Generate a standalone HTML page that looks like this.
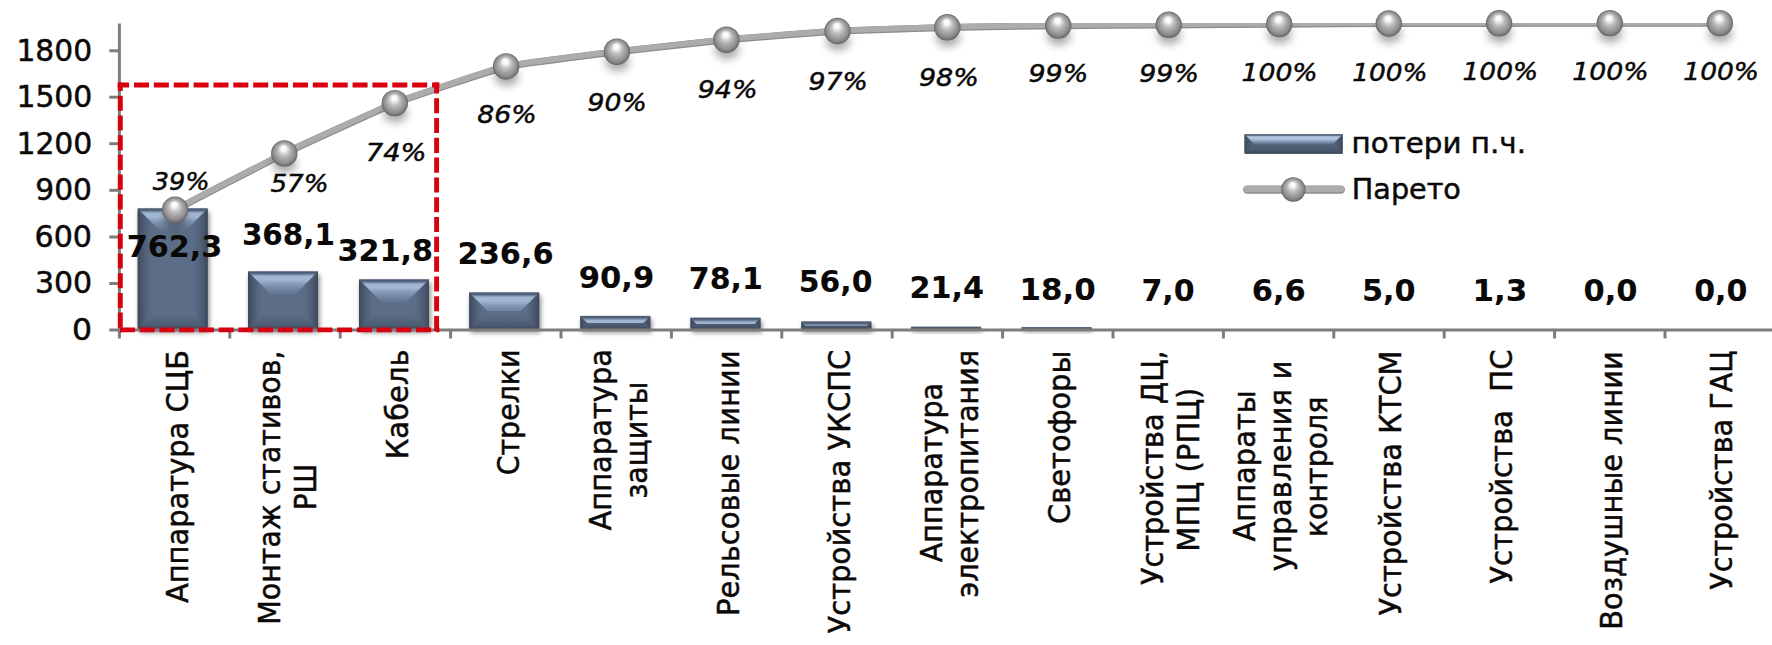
<!DOCTYPE html>
<html lang="ru"><head><meta charset="utf-8"><title>Парето</title>
<style>html,body{margin:0;padding:0;background:#fff;}body{width:1772px;height:645px;overflow:hidden;}svg{display:block;}text{font-family:'DejaVu Sans','Liberation Sans',sans-serif;fill:#0b0908;stroke:#0b0908;stroke-width:0.5px;}.yl{font-size:30.8px;text-anchor:end;}.pc{font-size:25.0px;font-style:italic;text-anchor:middle;}.vl{font-size:29.6px;font-weight:bold;text-anchor:middle;stroke-width:0.1px;}.ct{font-size:30.7px;white-space:pre;}.lg{font-size:28.3px;}</style></head><body>
<svg width="1772" height="645" viewBox="0 0 1772 645">
<defs>
<linearGradient id="gTop" x1="0" y1="0" x2="0" y2="1"><stop offset="0" stop-color="#4f5e75"/><stop offset="0.09" stop-color="#90a6c3"/><stop offset="0.5" stop-color="#7f94b1"/><stop offset="1" stop-color="#687b96"/></linearGradient>
<linearGradient id="gBot" x1="0" y1="0" x2="0" y2="1"><stop offset="0" stop-color="#5b6c85"/><stop offset="1" stop-color="#4b5a70"/></linearGradient>
<linearGradient id="gL" x1="0" y1="0" x2="1" y2="0"><stop offset="0" stop-color="#414e61"/><stop offset="0.22" stop-color="#55667d"/><stop offset="1" stop-color="#5f718a"/></linearGradient>
<linearGradient id="gR" x1="0" y1="0" x2="1" y2="0"><stop offset="0" stop-color="#5f718a"/><stop offset="0.78" stop-color="#55667d"/><stop offset="1" stop-color="#414e61"/></linearGradient>
<radialGradient id="ball" cx="0.5" cy="0.5" r="0.5" fx="0.47" fy="0.27"><stop offset="0" stop-color="#ffffff"/><stop offset="0.19" stop-color="#f8f8f8"/><stop offset="0.42" stop-color="#c4c3c3"/><stop offset="0.62" stop-color="#a6a4a4"/><stop offset="0.82" stop-color="#8f8d8d"/><stop offset="0.94" stop-color="#757373"/><stop offset="1" stop-color="#605e5e"/></radialGradient>
<filter id="blur2" x="-30%" y="-30%" width="160%" height="160%"><feGaussianBlur stdDeviation="2.4"/></filter>
<filter id="blur3" x="-50%" y="-50%" width="200%" height="200%"><feGaussianBlur stdDeviation="4.3"/></filter>
<clipPath id="plot"><rect x="0" y="23" width="1772" height="645"/></clipPath>
<linearGradient id="gLegTop" x1="0" y1="0" x2="0" y2="1"><stop offset="0" stop-color="#5a6a81"/><stop offset="0.22" stop-color="#b4c7df"/><stop offset="0.5" stop-color="#8ea2be"/><stop offset="1" stop-color="#62748d"/></linearGradient>
</defs>
<rect x="0" y="0" width="1772" height="645" fill="#ffffff"/>
<g id="bars">
<linearGradient id="bt1" gradientUnits="userSpaceOnUse" x1="0.00" y1="208.50" x2="0.00" y2="232.50"><stop offset="0.000" stop-color="#45536a"/><stop offset="0.083" stop-color="#566780"/><stop offset="0.188" stop-color="#9fb4d1"/><stop offset="0.333" stop-color="#a3b8d4"/><stop offset="0.542" stop-color="#8499b6"/><stop offset="0.750" stop-color="#7084a0"/><stop offset="1.000" stop-color="#5c6e87"/></linearGradient><linearGradient id="bb1" gradientUnits="userSpaceOnUse" x1="0.00" y1="330.00" x2="0.00" y2="314.00"><stop offset="0.000" stop-color="#3b4759"/><stop offset="0.250" stop-color="#4a596f"/><stop offset="0.625" stop-color="#54657c"/><stop offset="1.000" stop-color="#5c6e87"/></linearGradient><linearGradient id="bl1" gradientUnits="userSpaceOnUse" x1="137.70" y1="0.00" x2="151.70" y2="0.00"><stop offset="0.000" stop-color="#3c4859"/><stop offset="0.214" stop-color="#465368"/><stop offset="0.571" stop-color="#526279"/><stop offset="1.000" stop-color="#5c6e87"/></linearGradient><linearGradient id="br1" gradientUnits="userSpaceOnUse" x1="207.70" y1="0.00" x2="193.70" y2="0.00"><stop offset="0.000" stop-color="#3c4859"/><stop offset="0.214" stop-color="#465368"/><stop offset="0.571" stop-color="#526279"/><stop offset="1.000" stop-color="#5c6e87"/></linearGradient><rect x="139.2" y="211.5" width="70.0" height="121.0" fill="#000" opacity="0.48" filter="url(#blur2)"/><rect x="137.7" y="208.5" width="70.0" height="121.5" fill="#5c6e87"/><polygon points="137.7,208.5 161.7,232.5 161.7,306.0 137.7,330.0" fill="url(#bl1)"/><polygon points="207.7,208.5 183.7,232.5 183.7,306.0 207.7,330.0" fill="url(#br1)"/><polygon points="137.7,330.0 207.7,330.0 183.7,306.0 161.7,306.0" fill="url(#bb1)"/><polygon points="137.7,208.5 207.7,208.5 183.7,232.5 161.7,232.5" fill="url(#bt1)"/>
<linearGradient id="bt2" gradientUnits="userSpaceOnUse" x1="0.00" y1="271.50" x2="0.00" y2="295.50"><stop offset="0.000" stop-color="#45536a"/><stop offset="0.083" stop-color="#566780"/><stop offset="0.188" stop-color="#9fb4d1"/><stop offset="0.333" stop-color="#a3b8d4"/><stop offset="0.542" stop-color="#8499b6"/><stop offset="0.750" stop-color="#7084a0"/><stop offset="1.000" stop-color="#5c6e87"/></linearGradient><linearGradient id="bb2" gradientUnits="userSpaceOnUse" x1="0.00" y1="330.00" x2="0.00" y2="314.00"><stop offset="0.000" stop-color="#3b4759"/><stop offset="0.250" stop-color="#4a596f"/><stop offset="0.625" stop-color="#54657c"/><stop offset="1.000" stop-color="#5c6e87"/></linearGradient><linearGradient id="bl2" gradientUnits="userSpaceOnUse" x1="248.00" y1="0.00" x2="262.00" y2="0.00"><stop offset="0.000" stop-color="#3c4859"/><stop offset="0.214" stop-color="#465368"/><stop offset="0.571" stop-color="#526279"/><stop offset="1.000" stop-color="#5c6e87"/></linearGradient><linearGradient id="br2" gradientUnits="userSpaceOnUse" x1="318.00" y1="0.00" x2="304.00" y2="0.00"><stop offset="0.000" stop-color="#3c4859"/><stop offset="0.214" stop-color="#465368"/><stop offset="0.571" stop-color="#526279"/><stop offset="1.000" stop-color="#5c6e87"/></linearGradient><rect x="249.5" y="274.5" width="70.0" height="58.0" fill="#000" opacity="0.48" filter="url(#blur2)"/><rect x="248.0" y="271.5" width="70.0" height="58.5" fill="#5c6e87"/><polygon points="248.0,271.5 272.0,295.5 272.0,306.0 248.0,330.0" fill="url(#bl2)"/><polygon points="318.0,271.5 294.0,295.5 294.0,306.0 318.0,330.0" fill="url(#br2)"/><polygon points="248.0,330.0 318.0,330.0 294.0,306.0 272.0,306.0" fill="url(#bb2)"/><polygon points="248.0,271.5 318.0,271.5 294.0,295.5 272.0,295.5" fill="url(#bt2)"/>
<linearGradient id="bt3" gradientUnits="userSpaceOnUse" x1="0.00" y1="279.50" x2="0.00" y2="303.50"><stop offset="0.000" stop-color="#45536a"/><stop offset="0.083" stop-color="#566780"/><stop offset="0.188" stop-color="#9fb4d1"/><stop offset="0.333" stop-color="#a3b8d4"/><stop offset="0.542" stop-color="#8499b6"/><stop offset="0.750" stop-color="#7084a0"/><stop offset="1.000" stop-color="#5c6e87"/></linearGradient><linearGradient id="bb3" gradientUnits="userSpaceOnUse" x1="0.00" y1="330.00" x2="0.00" y2="314.00"><stop offset="0.000" stop-color="#3b4759"/><stop offset="0.250" stop-color="#4a596f"/><stop offset="0.625" stop-color="#54657c"/><stop offset="1.000" stop-color="#5c6e87"/></linearGradient><linearGradient id="bl3" gradientUnits="userSpaceOnUse" x1="359.00" y1="0.00" x2="373.00" y2="0.00"><stop offset="0.000" stop-color="#3c4859"/><stop offset="0.214" stop-color="#465368"/><stop offset="0.571" stop-color="#526279"/><stop offset="1.000" stop-color="#5c6e87"/></linearGradient><linearGradient id="br3" gradientUnits="userSpaceOnUse" x1="429.00" y1="0.00" x2="415.00" y2="0.00"><stop offset="0.000" stop-color="#3c4859"/><stop offset="0.214" stop-color="#465368"/><stop offset="0.571" stop-color="#526279"/><stop offset="1.000" stop-color="#5c6e87"/></linearGradient><rect x="360.5" y="282.5" width="70.0" height="50.0" fill="#000" opacity="0.48" filter="url(#blur2)"/><rect x="359.0" y="279.5" width="70.0" height="50.5" fill="#5c6e87"/><polygon points="359.0,279.5 383.0,303.5 383.0,306.0 359.0,330.0" fill="url(#bl3)"/><polygon points="429.0,279.5 405.0,303.5 405.0,306.0 429.0,330.0" fill="url(#br3)"/><polygon points="359.0,330.0 429.0,330.0 405.0,306.0 383.0,306.0" fill="url(#bb3)"/><polygon points="359.0,279.5 429.0,279.5 405.0,303.5 383.0,303.5" fill="url(#bt3)"/>
<linearGradient id="bt4" gradientUnits="userSpaceOnUse" x1="0.00" y1="292.60" x2="0.00" y2="316.60"><stop offset="0.000" stop-color="#45536a"/><stop offset="0.083" stop-color="#566780"/><stop offset="0.188" stop-color="#9fb4d1"/><stop offset="0.333" stop-color="#a3b8d4"/><stop offset="0.542" stop-color="#8499b6"/><stop offset="0.750" stop-color="#7084a0"/><stop offset="1.000" stop-color="#5c6e87"/></linearGradient><linearGradient id="bb4" gradientUnits="userSpaceOnUse" x1="0.00" y1="330.00" x2="0.00" y2="314.00"><stop offset="0.000" stop-color="#3b4759"/><stop offset="0.250" stop-color="#4a596f"/><stop offset="0.625" stop-color="#54657c"/><stop offset="1.000" stop-color="#5c6e87"/></linearGradient><linearGradient id="bl4" gradientUnits="userSpaceOnUse" x1="469.20" y1="0.00" x2="483.20" y2="0.00"><stop offset="0.000" stop-color="#3c4859"/><stop offset="0.214" stop-color="#465368"/><stop offset="0.571" stop-color="#526279"/><stop offset="1.000" stop-color="#5c6e87"/></linearGradient><linearGradient id="br4" gradientUnits="userSpaceOnUse" x1="539.20" y1="0.00" x2="525.20" y2="0.00"><stop offset="0.000" stop-color="#3c4859"/><stop offset="0.214" stop-color="#465368"/><stop offset="0.571" stop-color="#526279"/><stop offset="1.000" stop-color="#5c6e87"/></linearGradient><rect x="470.7" y="295.6" width="70.0" height="36.9" fill="#000" opacity="0.48" filter="url(#blur2)"/><rect x="469.2" y="292.6" width="70.0" height="37.4" fill="#5c6e87"/><polygon points="469.2,292.6 487.9,311.3 487.9,311.3 469.2,330.0" fill="url(#bl4)"/><polygon points="539.2,292.6 520.5,311.3 520.5,311.3 539.2,330.0" fill="url(#br4)"/><polygon points="469.2,330.0 539.2,330.0 520.5,311.3 487.9,311.3" fill="url(#bb4)"/><polygon points="469.2,292.6 539.2,292.6 520.5,311.3 487.9,311.3" fill="url(#bt4)"/>
<linearGradient id="bt5" gradientUnits="userSpaceOnUse" x1="0.00" y1="315.90" x2="0.00" y2="339.90"><stop offset="0.000" stop-color="#45536a"/><stop offset="0.083" stop-color="#566780"/><stop offset="0.188" stop-color="#9fb4d1"/><stop offset="0.333" stop-color="#a3b8d4"/><stop offset="0.542" stop-color="#8499b6"/><stop offset="0.750" stop-color="#7084a0"/><stop offset="1.000" stop-color="#5c6e87"/></linearGradient><linearGradient id="bb5" gradientUnits="userSpaceOnUse" x1="0.00" y1="330.00" x2="0.00" y2="314.00"><stop offset="0.000" stop-color="#3b4759"/><stop offset="0.250" stop-color="#4a596f"/><stop offset="0.625" stop-color="#54657c"/><stop offset="1.000" stop-color="#5c6e87"/></linearGradient><linearGradient id="bl5" gradientUnits="userSpaceOnUse" x1="580.30" y1="0.00" x2="594.30" y2="0.00"><stop offset="0.000" stop-color="#3c4859"/><stop offset="0.214" stop-color="#465368"/><stop offset="0.571" stop-color="#526279"/><stop offset="1.000" stop-color="#5c6e87"/></linearGradient><linearGradient id="br5" gradientUnits="userSpaceOnUse" x1="650.30" y1="0.00" x2="636.30" y2="0.00"><stop offset="0.000" stop-color="#3c4859"/><stop offset="0.214" stop-color="#465368"/><stop offset="0.571" stop-color="#526279"/><stop offset="1.000" stop-color="#5c6e87"/></linearGradient><rect x="581.8" y="318.9" width="70.0" height="13.6" fill="#000" opacity="0.48" filter="url(#blur2)"/><rect x="580.3" y="315.9" width="70.0" height="14.1" fill="#5c6e87"/><polygon points="580.3,315.9 587.3,322.9 587.3,322.9 580.3,330.0" fill="url(#bl5)"/><polygon points="650.3,315.9 643.2,322.9 643.2,322.9 650.3,330.0" fill="url(#br5)"/><polygon points="580.3,330.0 650.3,330.0 643.2,322.9 587.3,322.9" fill="url(#bb5)"/><polygon points="580.3,315.9 650.3,315.9 643.2,322.9 587.3,322.9" fill="url(#bt5)"/>
<linearGradient id="bt6" gradientUnits="userSpaceOnUse" x1="0.00" y1="317.80" x2="0.00" y2="341.80"><stop offset="0.000" stop-color="#45536a"/><stop offset="0.083" stop-color="#566780"/><stop offset="0.188" stop-color="#9fb4d1"/><stop offset="0.333" stop-color="#a3b8d4"/><stop offset="0.542" stop-color="#8499b6"/><stop offset="0.750" stop-color="#7084a0"/><stop offset="1.000" stop-color="#5c6e87"/></linearGradient><linearGradient id="bb6" gradientUnits="userSpaceOnUse" x1="0.00" y1="330.00" x2="0.00" y2="314.00"><stop offset="0.000" stop-color="#3b4759"/><stop offset="0.250" stop-color="#4a596f"/><stop offset="0.625" stop-color="#54657c"/><stop offset="1.000" stop-color="#5c6e87"/></linearGradient><linearGradient id="bl6" gradientUnits="userSpaceOnUse" x1="690.50" y1="0.00" x2="704.50" y2="0.00"><stop offset="0.000" stop-color="#3c4859"/><stop offset="0.214" stop-color="#465368"/><stop offset="0.571" stop-color="#526279"/><stop offset="1.000" stop-color="#5c6e87"/></linearGradient><linearGradient id="br6" gradientUnits="userSpaceOnUse" x1="760.50" y1="0.00" x2="746.50" y2="0.00"><stop offset="0.000" stop-color="#3c4859"/><stop offset="0.214" stop-color="#465368"/><stop offset="0.571" stop-color="#526279"/><stop offset="1.000" stop-color="#5c6e87"/></linearGradient><rect x="692.0" y="320.8" width="70.0" height="11.7" fill="#000" opacity="0.48" filter="url(#blur2)"/><rect x="690.5" y="317.8" width="70.0" height="12.2" fill="#5c6e87"/><polygon points="690.5,317.8 696.6,323.9 696.6,323.9 690.5,330.0" fill="url(#bl6)"/><polygon points="760.5,317.8 754.4,323.9 754.4,323.9 760.5,330.0" fill="url(#br6)"/><polygon points="690.5,330.0 760.5,330.0 754.4,323.9 696.6,323.9" fill="url(#bb6)"/><polygon points="690.5,317.8 760.5,317.8 754.4,323.9 696.6,323.9" fill="url(#bt6)"/>
<linearGradient id="bt7" gradientUnits="userSpaceOnUse" x1="0.00" y1="321.60" x2="0.00" y2="345.60"><stop offset="0.000" stop-color="#45536a"/><stop offset="0.083" stop-color="#566780"/><stop offset="0.188" stop-color="#9fb4d1"/><stop offset="0.333" stop-color="#a3b8d4"/><stop offset="0.542" stop-color="#8499b6"/><stop offset="0.750" stop-color="#7084a0"/><stop offset="1.000" stop-color="#5c6e87"/></linearGradient><linearGradient id="bb7" gradientUnits="userSpaceOnUse" x1="0.00" y1="330.00" x2="0.00" y2="314.00"><stop offset="0.000" stop-color="#3b4759"/><stop offset="0.250" stop-color="#4a596f"/><stop offset="0.625" stop-color="#54657c"/><stop offset="1.000" stop-color="#5c6e87"/></linearGradient><linearGradient id="bl7" gradientUnits="userSpaceOnUse" x1="801.30" y1="0.00" x2="815.30" y2="0.00"><stop offset="0.000" stop-color="#3c4859"/><stop offset="0.214" stop-color="#465368"/><stop offset="0.571" stop-color="#526279"/><stop offset="1.000" stop-color="#5c6e87"/></linearGradient><linearGradient id="br7" gradientUnits="userSpaceOnUse" x1="871.30" y1="0.00" x2="857.30" y2="0.00"><stop offset="0.000" stop-color="#3c4859"/><stop offset="0.214" stop-color="#465368"/><stop offset="0.571" stop-color="#526279"/><stop offset="1.000" stop-color="#5c6e87"/></linearGradient><rect x="802.8" y="324.6" width="70.0" height="7.9" fill="#000" opacity="0.48" filter="url(#blur2)"/><rect x="801.3" y="321.6" width="70.0" height="8.4" fill="#5c6e87"/><polygon points="801.3,321.6 805.5,325.8 805.5,325.8 801.3,330.0" fill="url(#bl7)"/><polygon points="871.3,321.6 867.1,325.8 867.1,325.8 871.3,330.0" fill="url(#br7)"/><polygon points="801.3,330.0 871.3,330.0 867.1,325.8 805.5,325.8" fill="url(#bb7)"/><polygon points="801.3,321.6 871.3,321.6 867.1,325.8 805.5,325.8" fill="url(#bt7)"/>
<linearGradient id="bt8" gradientUnits="userSpaceOnUse" x1="0.00" y1="326.80" x2="0.00" y2="350.80"><stop offset="0.000" stop-color="#45536a"/><stop offset="0.083" stop-color="#566780"/><stop offset="0.188" stop-color="#9fb4d1"/><stop offset="0.333" stop-color="#a3b8d4"/><stop offset="0.542" stop-color="#8499b6"/><stop offset="0.750" stop-color="#7084a0"/><stop offset="1.000" stop-color="#5c6e87"/></linearGradient><linearGradient id="bb8" gradientUnits="userSpaceOnUse" x1="0.00" y1="330.00" x2="0.00" y2="314.00"><stop offset="0.000" stop-color="#3b4759"/><stop offset="0.250" stop-color="#4a596f"/><stop offset="0.625" stop-color="#54657c"/><stop offset="1.000" stop-color="#5c6e87"/></linearGradient><linearGradient id="bl8" gradientUnits="userSpaceOnUse" x1="911.10" y1="0.00" x2="925.10" y2="0.00"><stop offset="0.000" stop-color="#3c4859"/><stop offset="0.214" stop-color="#465368"/><stop offset="0.571" stop-color="#526279"/><stop offset="1.000" stop-color="#5c6e87"/></linearGradient><linearGradient id="br8" gradientUnits="userSpaceOnUse" x1="981.10" y1="0.00" x2="967.10" y2="0.00"><stop offset="0.000" stop-color="#3c4859"/><stop offset="0.214" stop-color="#465368"/><stop offset="0.571" stop-color="#526279"/><stop offset="1.000" stop-color="#5c6e87"/></linearGradient><rect x="912.6" y="329.8" width="70.0" height="2.7" fill="#000" opacity="0.48" filter="url(#blur2)"/><rect x="911.1" y="326.8" width="70.0" height="3.2" fill="#5c6e87"/><polygon points="911.1,326.8 912.7,328.4 912.7,328.4 911.1,330.0" fill="url(#bl8)"/><polygon points="981.1,326.8 979.5,328.4 979.5,328.4 981.1,330.0" fill="url(#br8)"/><polygon points="911.1,330.0 981.1,330.0 979.5,328.4 912.7,328.4" fill="url(#bb8)"/><polygon points="911.1,326.8 981.1,326.8 979.5,328.4 912.7,328.4" fill="url(#bt8)"/>
<linearGradient id="bt9" gradientUnits="userSpaceOnUse" x1="0.00" y1="327.30" x2="0.00" y2="351.30"><stop offset="0.000" stop-color="#45536a"/><stop offset="0.083" stop-color="#566780"/><stop offset="0.188" stop-color="#9fb4d1"/><stop offset="0.333" stop-color="#a3b8d4"/><stop offset="0.542" stop-color="#8499b6"/><stop offset="0.750" stop-color="#7084a0"/><stop offset="1.000" stop-color="#5c6e87"/></linearGradient><linearGradient id="bb9" gradientUnits="userSpaceOnUse" x1="0.00" y1="330.00" x2="0.00" y2="314.00"><stop offset="0.000" stop-color="#3b4759"/><stop offset="0.250" stop-color="#4a596f"/><stop offset="0.625" stop-color="#54657c"/><stop offset="1.000" stop-color="#5c6e87"/></linearGradient><linearGradient id="bl9" gradientUnits="userSpaceOnUse" x1="1021.50" y1="0.00" x2="1035.50" y2="0.00"><stop offset="0.000" stop-color="#3c4859"/><stop offset="0.214" stop-color="#465368"/><stop offset="0.571" stop-color="#526279"/><stop offset="1.000" stop-color="#5c6e87"/></linearGradient><linearGradient id="br9" gradientUnits="userSpaceOnUse" x1="1091.50" y1="0.00" x2="1077.50" y2="0.00"><stop offset="0.000" stop-color="#3c4859"/><stop offset="0.214" stop-color="#465368"/><stop offset="0.571" stop-color="#526279"/><stop offset="1.000" stop-color="#5c6e87"/></linearGradient><rect x="1023.0" y="330.3" width="70.0" height="2.2" fill="#000" opacity="0.48" filter="url(#blur2)"/><rect x="1021.5" y="327.3" width="70.0" height="2.7" fill="#5c6e87"/><polygon points="1021.5,327.3 1022.9,328.6 1022.9,328.6 1021.5,330.0" fill="url(#bl9)"/><polygon points="1091.5,327.3 1090.2,328.6 1090.2,328.6 1091.5,330.0" fill="url(#br9)"/><polygon points="1021.5,330.0 1091.5,330.0 1090.2,328.6 1022.9,328.6" fill="url(#bb9)"/><polygon points="1021.5,327.3 1091.5,327.3 1090.2,328.6 1022.9,328.6" fill="url(#bt9)"/>
</g>
<g id="axes" stroke="#7f7c7c" stroke-width="3" fill="none">
<line x1="119.4" y1="23.5" x2="119.4" y2="338.5"/>
<line x1="109.3" y1="330.0" x2="1772" y2="330.0"/>
<line x1="109.3" y1="283.5" x2="119.4" y2="283.5"/>
<line x1="109.3" y1="237.0" x2="119.4" y2="237.0"/>
<line x1="109.3" y1="190.3" x2="119.4" y2="190.3"/>
<line x1="109.3" y1="143.7" x2="119.4" y2="143.7"/>
<line x1="109.3" y1="97.2" x2="119.4" y2="97.2"/>
<line x1="109.3" y1="50.8" x2="119.4" y2="50.8"/>
<line x1="229.8" y1="330.0" x2="229.8" y2="338.5"/>
<line x1="340.2" y1="330.0" x2="340.2" y2="338.5"/>
<line x1="450.6" y1="330.0" x2="450.6" y2="338.5"/>
<line x1="561.0" y1="330.0" x2="561.0" y2="338.5"/>
<line x1="671.4" y1="330.0" x2="671.4" y2="338.5"/>
<line x1="781.8" y1="330.0" x2="781.8" y2="338.5"/>
<line x1="892.2" y1="330.0" x2="892.2" y2="338.5"/>
<line x1="1002.6" y1="330.0" x2="1002.6" y2="338.5"/>
<line x1="1113.0" y1="330.0" x2="1113.0" y2="338.5"/>
<line x1="1223.4" y1="330.0" x2="1223.4" y2="338.5"/>
<line x1="1333.8" y1="330.0" x2="1333.8" y2="338.5"/>
<line x1="1444.2" y1="330.0" x2="1444.2" y2="338.5"/>
<line x1="1554.6" y1="330.0" x2="1554.6" y2="338.5"/>
<line x1="1665.0" y1="330.0" x2="1665.0" y2="338.5"/>
</g>
<g id="ylabels">
<text id="y0" class="yl" x="92.22" y="339.7" textLength="20.09" lengthAdjust="spacingAndGlyphs">0</text>
<text id="y1" class="yl" x="92.16" y="293.1" textLength="57.26" lengthAdjust="spacingAndGlyphs">300</text>
<text id="y2" class="yl" x="92.03" y="246.5" textLength="57.49" lengthAdjust="spacingAndGlyphs">600</text>
<text id="y3" class="yl" x="92.03" y="199.9" textLength="56.68" lengthAdjust="spacingAndGlyphs">900</text>
<text id="y4" class="yl" x="92.38" y="153.6" textLength="75.98" lengthAdjust="spacingAndGlyphs">1200</text>
<text id="y5" class="yl" x="92.38" y="107.2" textLength="75.98" lengthAdjust="spacingAndGlyphs">1500</text>
<text id="y6" class="yl" x="92.06" y="60.9" textLength="75.63" lengthAdjust="spacingAndGlyphs">1800</text>
</g>
<g id="pareto" clip-path="url(#plot)" fill="none" stroke-linecap="round" stroke-linejoin="round">
<path d="M175.1,209.8 C179.7,207.5 275.1,157.8 284.3,153.4 C293.5,149.0 385.6,106.7 394.8,103.1 C404.0,99.5 496.8,68.5 506.1,66.4 C515.4,64.3 607.7,52.8 616.9,51.7 C626.1,50.6 717.2,40.6 726.4,39.7 C735.6,38.8 828.3,31.5 837.5,31.0 C846.7,30.5 938.1,27.5 947.3,27.3 C956.5,27.1 1049.0,25.7 1058.2,25.6 C1067.4,25.5 1159.5,24.9 1168.7,24.8 C1177.9,24.7 1270.0,24.2 1279.2,24.1 C1288.4,24.0 1379.6,23.5 1388.8,23.5 C1398.0,23.5 1489.9,23.3 1499.1,23.3 C1508.3,23.3 1600.6,23.1 1609.8,23.1 C1619.0,23.1 1715.2,23.1 1719.8,23.1" stroke="#8d8b8b" stroke-width="7.0" transform="translate(0,0.1)"/>
<path d="M175.1,209.8 C179.7,207.5 275.1,157.8 284.3,153.4 C293.5,149.0 385.6,106.7 394.8,103.1 C404.0,99.5 496.8,68.5 506.1,66.4 C515.4,64.3 607.7,52.8 616.9,51.7 C626.1,50.6 717.2,40.6 726.4,39.7 C735.6,38.8 828.3,31.5 837.5,31.0 C846.7,30.5 938.1,27.5 947.3,27.3 C956.5,27.1 1049.0,25.7 1058.2,25.6 C1067.4,25.5 1159.5,24.9 1168.7,24.8 C1177.9,24.7 1270.0,24.2 1279.2,24.1 C1288.4,24.0 1379.6,23.5 1388.8,23.5 C1398.0,23.5 1489.9,23.3 1499.1,23.3 C1508.3,23.3 1600.6,23.1 1609.8,23.1 C1619.0,23.1 1715.2,23.1 1719.8,23.1" stroke="#adabab" stroke-width="5.6" transform="translate(0,-0.45)"/>
</g>
<g id="markers">
<ellipse cx="175.6" cy="220.3" rx="12" ry="9" fill="#000" opacity="0.33" filter="url(#blur3)"/>
<ellipse cx="284.8" cy="163.9" rx="12" ry="9" fill="#000" opacity="0.33" filter="url(#blur3)"/>
<ellipse cx="395.3" cy="113.6" rx="12" ry="9" fill="#000" opacity="0.33" filter="url(#blur3)"/>
<ellipse cx="506.6" cy="76.9" rx="12" ry="9" fill="#000" opacity="0.33" filter="url(#blur3)"/>
<ellipse cx="617.4" cy="62.2" rx="12" ry="9" fill="#000" opacity="0.33" filter="url(#blur3)"/>
<ellipse cx="726.9" cy="50.2" rx="12" ry="9" fill="#000" opacity="0.33" filter="url(#blur3)"/>
<ellipse cx="838.0" cy="41.5" rx="12" ry="9" fill="#000" opacity="0.33" filter="url(#blur3)"/>
<ellipse cx="947.8" cy="37.8" rx="12" ry="9" fill="#000" opacity="0.33" filter="url(#blur3)"/>
<ellipse cx="1058.7" cy="36.1" rx="12" ry="9" fill="#000" opacity="0.33" filter="url(#blur3)"/>
<ellipse cx="1169.2" cy="35.3" rx="12" ry="9" fill="#000" opacity="0.33" filter="url(#blur3)"/>
<ellipse cx="1279.7" cy="34.6" rx="12" ry="9" fill="#000" opacity="0.33" filter="url(#blur3)"/>
<ellipse cx="1389.3" cy="34.0" rx="12" ry="9" fill="#000" opacity="0.33" filter="url(#blur3)"/>
<ellipse cx="1499.6" cy="33.8" rx="12" ry="9" fill="#000" opacity="0.33" filter="url(#blur3)"/>
<ellipse cx="1610.3" cy="33.6" rx="12" ry="9" fill="#000" opacity="0.33" filter="url(#blur3)"/>
<ellipse cx="1720.3" cy="33.6" rx="12" ry="9" fill="#000" opacity="0.33" filter="url(#blur3)"/>
<circle cx="175.1" cy="209.8" r="13.2" fill="url(#ball)"/>
<circle cx="284.3" cy="153.4" r="13.2" fill="url(#ball)"/>
<circle cx="394.8" cy="103.1" r="13.2" fill="url(#ball)"/>
<circle cx="506.1" cy="66.4" r="13.2" fill="url(#ball)"/>
<circle cx="616.9" cy="51.7" r="13.2" fill="url(#ball)"/>
<circle cx="726.4" cy="39.7" r="13.2" fill="url(#ball)"/>
<circle cx="837.5" cy="31.0" r="13.2" fill="url(#ball)"/>
<circle cx="947.3" cy="27.3" r="13.2" fill="url(#ball)"/>
<circle cx="1058.2" cy="25.6" r="13.2" fill="url(#ball)"/>
<circle cx="1168.7" cy="24.8" r="13.2" fill="url(#ball)"/>
<circle cx="1279.2" cy="24.1" r="13.2" fill="url(#ball)"/>
<circle cx="1388.8" cy="23.5" r="13.2" fill="url(#ball)"/>
<circle cx="1499.1" cy="23.3" r="13.2" fill="url(#ball)"/>
<circle cx="1609.8" cy="23.1" r="13.2" fill="url(#ball)"/>
<circle cx="1719.8" cy="23.1" r="13.2" fill="url(#ball)"/>
</g>
<g id="vals">
<text id="v0" class="vl" x="174.58" y="257.2" textLength="95.58" lengthAdjust="spacingAndGlyphs">762,3</text>
<text id="v1" class="vl" x="288.39" y="244.7" textLength="92.94" lengthAdjust="spacingAndGlyphs">368,1</text>
<text id="v2" class="vl" x="385.24" y="261.3" textLength="95.56" lengthAdjust="spacingAndGlyphs">321,8</text>
<text id="v3" class="vl" x="505.63" y="264.3" textLength="96.14" lengthAdjust="spacingAndGlyphs">236,6</text>
<text id="v4" class="vl" x="616.51" y="287.8" textLength="75.59" lengthAdjust="spacingAndGlyphs">90,9</text>
<text id="v5" class="vl" x="725.85" y="289.3" textLength="74.10" lengthAdjust="spacingAndGlyphs">78,1</text>
<text id="v6" class="vl" x="835.65" y="292.2" textLength="73.66" lengthAdjust="spacingAndGlyphs">56,0</text>
<text id="v7" class="vl" x="946.82" y="297.7" textLength="74.56" lengthAdjust="spacingAndGlyphs">21,4</text>
<text id="v8" class="vl" x="1057.59" y="299.7" textLength="76.39" lengthAdjust="spacingAndGlyphs">18,0</text>
<text id="v9" class="vl" x="1168.10" y="300.5" textLength="53.33" lengthAdjust="spacingAndGlyphs">7,0</text>
<text id="v10" class="vl" x="1278.74" y="300.5" textLength="54.02" lengthAdjust="spacingAndGlyphs">6,6</text>
<text id="v11" class="vl" x="1388.87" y="300.5" textLength="53.71" lengthAdjust="spacingAndGlyphs">5,0</text>
<text id="v12" class="vl" x="1499.93" y="300.5" textLength="54.97" lengthAdjust="spacingAndGlyphs">1,3</text>
<text id="v13" class="vl" x="1610.47" y="300.5" textLength="54.07" lengthAdjust="spacingAndGlyphs">0,0</text>
<text id="v14" class="vl" x="1720.81" y="300.5" textLength="53.27" lengthAdjust="spacingAndGlyphs">0,0</text>
</g>
<g id="pcts">
<text id="p0" class="pc" x="181.14" y="190.2" textLength="56.86" lengthAdjust="spacingAndGlyphs">39%</text>
<text id="p1" class="pc" x="299.55" y="191.7" textLength="58.19" lengthAdjust="spacingAndGlyphs">57%</text>
<text id="p2" class="pc" x="396.15" y="160.7" textLength="60.66" lengthAdjust="spacingAndGlyphs">74%</text>
<text id="p3" class="pc" x="506.96" y="123.3" textLength="59.45" lengthAdjust="spacingAndGlyphs">86%</text>
<text id="p4" class="pc" x="617.15" y="110.9" textLength="59.23" lengthAdjust="spacingAndGlyphs">90%</text>
<text id="p5" class="pc" x="727.71" y="97.7" textLength="60.00" lengthAdjust="spacingAndGlyphs">94%</text>
<text id="p6" class="pc" x="838.15" y="89.8" textLength="59.23" lengthAdjust="spacingAndGlyphs">97%</text>
<text id="p7" class="pc" x="948.82" y="86.1" textLength="59.82" lengthAdjust="spacingAndGlyphs">98%</text>
<text id="p8" class="pc" x="1058.37" y="82.3" textLength="59.69" lengthAdjust="spacingAndGlyphs">99%</text>
<text id="p9" class="pc" x="1169.10" y="82.3" textLength="59.50" lengthAdjust="spacingAndGlyphs">99%</text>
<text id="p10" class="pc" x="1279.60" y="81.4" textLength="76.18" lengthAdjust="spacingAndGlyphs">100%</text>
<text id="p11" class="pc" x="1389.96" y="81.1" textLength="75.31" lengthAdjust="spacingAndGlyphs">100%</text>
<text id="p12" class="pc" x="1500.28" y="80.4" textLength="75.40" lengthAdjust="spacingAndGlyphs">100%</text>
<text id="p13" class="pc" x="1610.42" y="80.4" textLength="76.47" lengthAdjust="spacingAndGlyphs">100%</text>
<text id="p14" class="pc" x="1721.18" y="80.4" textLength="75.76" lengthAdjust="spacingAndGlyphs">100%</text>
</g>
<g id="legend">
<linearGradient id="bt10" gradientUnits="userSpaceOnUse" x1="0.00" y1="134.20" x2="0.00" y2="143.95"><stop offset="0.000" stop-color="#4f5e75"/><stop offset="0.144" stop-color="#66788f"/><stop offset="0.267" stop-color="#b6cae2"/><stop offset="0.533" stop-color="#a9bed8"/><stop offset="0.779" stop-color="#7e93b0"/><stop offset="1.000" stop-color="#62748d"/></linearGradient><linearGradient id="bb10" gradientUnits="userSpaceOnUse" x1="0.00" y1="153.70" x2="0.00" y2="137.70"><stop offset="0.000" stop-color="#3b4759"/><stop offset="0.250" stop-color="#4a596f"/><stop offset="0.625" stop-color="#54657c"/><stop offset="1.000" stop-color="#5c6e87"/></linearGradient><linearGradient id="bl10" gradientUnits="userSpaceOnUse" x1="1244.50" y1="0.00" x2="1258.50" y2="0.00"><stop offset="0.000" stop-color="#3c4859"/><stop offset="0.214" stop-color="#465368"/><stop offset="0.571" stop-color="#526279"/><stop offset="1.000" stop-color="#5c6e87"/></linearGradient><linearGradient id="br10" gradientUnits="userSpaceOnUse" x1="1342.70" y1="0.00" x2="1328.70" y2="0.00"><stop offset="0.000" stop-color="#3c4859"/><stop offset="0.214" stop-color="#465368"/><stop offset="0.571" stop-color="#526279"/><stop offset="1.000" stop-color="#5c6e87"/></linearGradient><rect x="1244.5" y="134.2" width="98.2" height="19.5" fill="#5c6e87"/><polygon points="1244.5,134.2 1254.2,143.9 1254.2,143.9 1244.5,153.7" fill="url(#bl10)"/><polygon points="1342.7,134.2 1333.0,143.9 1333.0,143.9 1342.7,153.7" fill="url(#br10)"/><polygon points="1244.5,153.7 1342.7,153.7 1333.0,143.9 1254.2,143.9" fill="url(#bb10)"/><polygon points="1244.5,134.2 1342.7,134.2 1333.0,143.9 1254.2,143.9" fill="url(#bt10)"/>
<text id="lg0" class="lg" x="1351.53" y="153.2" textLength="174.53" lengthAdjust="spacingAndGlyphs">потери п.ч.</text>
<line x1="1247.2" y1="189.6" x2="1340.8" y2="189.6" stroke="#8f8d8d" stroke-width="8.4" stroke-linecap="round"/>
<line x1="1247.0" y1="189.0" x2="1341.0" y2="189.0" stroke="#adabab" stroke-width="6.6" stroke-linecap="round"/>
<circle cx="1293.3" cy="189.5" r="12.2" fill="url(#ball)"/>
<text id="lg1" class="lg" x="1351.84" y="199.2" textLength="109.01" lengthAdjust="spacingAndGlyphs">Парето</text>
</g>
<g id="cats">
<text id="c0_0" class="ct" transform="translate(187.50,603.12) rotate(-90)" textLength="253.14" lengthAdjust="spacingAndGlyphs" xml:space="preserve">Аппаратура СЦБ</text>
<text id="c1_0" class="ct" transform="translate(279.70,624.76) rotate(-90)" textLength="274.30" lengthAdjust="spacingAndGlyphs" xml:space="preserve">Монтаж стативов,</text>
<text id="c1_1" class="ct" transform="translate(316.00,510.30) rotate(-90)" textLength="46.56" lengthAdjust="spacingAndGlyphs" xml:space="preserve">РШ</text>
<text id="c2_0" class="ct" transform="translate(408.20,459.22) rotate(-90)" textLength="109.74" lengthAdjust="spacingAndGlyphs" xml:space="preserve">Кабель</text>
<text id="c3_0" class="ct" transform="translate(518.55,475.35) rotate(-90)" textLength="125.88" lengthAdjust="spacingAndGlyphs" xml:space="preserve">Стрелки</text>
<text id="c4_0" class="ct" transform="translate(610.75,530.59) rotate(-90)" textLength="181.67" lengthAdjust="spacingAndGlyphs" xml:space="preserve">Аппаратура</text>
<text id="c4_1" class="ct" transform="translate(647.05,498.87) rotate(-90)" textLength="117.20" lengthAdjust="spacingAndGlyphs" xml:space="preserve">защиты</text>
<text id="c5_0" class="ct" transform="translate(739.25,616.03) rotate(-90)" textLength="265.54" lengthAdjust="spacingAndGlyphs" xml:space="preserve">Рельсовые линии</text>
<text id="c6_0" class="ct" transform="translate(849.60,633.59) rotate(-90)" textLength="284.03" lengthAdjust="spacingAndGlyphs" xml:space="preserve">Устройства УКСПС</text>
<text id="c7_0" class="ct" transform="translate(941.80,562.21) rotate(-90)" textLength="179.23" lengthAdjust="spacingAndGlyphs" xml:space="preserve">Аппаратура</text>
<text id="c7_1" class="ct" transform="translate(978.10,597.44) rotate(-90)" textLength="247.53" lengthAdjust="spacingAndGlyphs" xml:space="preserve">электропитания</text>
<text id="c8_0" class="ct" transform="translate(1070.30,523.94) rotate(-90)" textLength="173.25" lengthAdjust="spacingAndGlyphs" xml:space="preserve">Светофоры</text>
<text id="c9_0" class="ct" transform="translate(1162.50,585.00) rotate(-90)" textLength="234.74" lengthAdjust="spacingAndGlyphs" xml:space="preserve">Устройства ДЦ,</text>
<text id="c9_1" class="ct" transform="translate(1198.80,551.63) rotate(-90)" textLength="164.12" lengthAdjust="spacingAndGlyphs" xml:space="preserve">МПЦ (РПЦ)</text>
<text id="c10_0" class="ct" transform="translate(1254.70,541.54) rotate(-90)" textLength="151.24" lengthAdjust="spacingAndGlyphs" xml:space="preserve">Аппараты</text>
<text id="c10_1" class="ct" transform="translate(1291.00,571.36) rotate(-90)" textLength="210.88" lengthAdjust="spacingAndGlyphs" xml:space="preserve">управления и</text>
<text id="c10_2" class="ct" transform="translate(1327.30,537.11) rotate(-90)" textLength="140.52" lengthAdjust="spacingAndGlyphs" xml:space="preserve">контроля</text>
<text id="c11_0" class="ct" transform="translate(1401.35,615.59) rotate(-90)" textLength="265.15" lengthAdjust="spacingAndGlyphs" xml:space="preserve">Устройства КТСМ</text>
<text id="c12_0" class="ct" transform="translate(1511.70,583.65) rotate(-90)" textLength="234.08" lengthAdjust="spacingAndGlyphs" xml:space="preserve">Устройства  ПС</text>
<text id="c13_0" class="ct" transform="translate(1622.05,629.71) rotate(-90)" textLength="278.41" lengthAdjust="spacingAndGlyphs" xml:space="preserve">Воздушные линии</text>
<text id="c14_0" class="ct" transform="translate(1732.40,589.73) rotate(-90)" textLength="239.20" lengthAdjust="spacingAndGlyphs" xml:space="preserve">Устройства ГАЦ</text>
</g>
<g id="hl" fill="none" stroke="#d8000f" stroke-width="4.9">
<line x1="117.7" y1="85.0" x2="439.4" y2="85.0" stroke-dasharray="15.00 4.87" stroke-dashoffset="3.57"/>
<line x1="117.7" y1="329.9" x2="439.4" y2="329.9" stroke-dasharray="15.00 4.74" stroke-dashoffset="17.44"/>
<line x1="120.3" y1="82.4" x2="120.3" y2="332.4" stroke-dasharray="15.10 4.62" stroke-dashoffset="6.42"/>
<line x1="436.6" y1="82.4" x2="436.6" y2="332.2" stroke-dasharray="15.10 4.70" stroke-dashoffset="4.00"/>
</g>
</svg></body></html>
